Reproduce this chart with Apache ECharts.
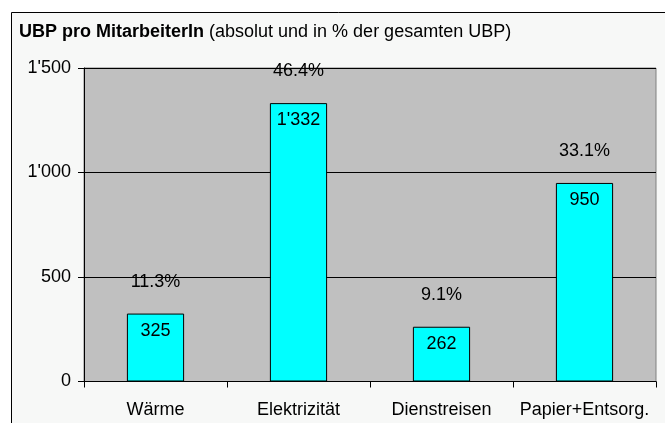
<!DOCTYPE html>
<html>
<head>
<meta charset="utf-8">
<script src="https://cdn.jsdelivr.net/npm/echarts@6/dist/echarts.min.js"></script>
<style>
  html, body { margin: 0; padding: 0; background: #fff; }
  #chart { width: 665px; height: 423px; }
</style>
</head>
<body>
<div id="chart"></div>
<script>
// values
var categories = ['Wärme', 'Elektrizität', 'Dienstreisen', 'Papier+Entsorg.'];
var ubpValues = [325, 1332, 262, 950];
var percentLabels = ['11.3%', '46.4%', '9.1%', '33.1%'];
var yTicks = [0, 500, 1000, 1500];

function swissNum(v) {
    return String(v).replace(/\B(?=(\d{3})+(?!\d))/g, "'");
}

var font = 'Liberation Sans, Arial, sans-serif';
var fs = 18;
var myChart = echarts.init(document.getElementById('chart'));
myChart.setOption({
    animation: false,
    backgroundColor: '#ffffff',
    graphic: [
        {
            type: 'rect',
            z: -10,
            shape: { x: 11.5, y: 12.5, width: 700, height: 500 },
            style: { fill: '#f7f8f7', stroke: '#000', lineWidth: 1 }
        }
    ],
    title: {
        text: '{b|UBP pro MitarbeiterIn} {n|(absolut und in % der gesamten UBP)}',
        left: 14,
        top: 18,
        textStyle: {
            fontWeight: 'normal',
            rich: {
                b: { fontFamily: font, fontSize: fs, fontWeight: 'bold', color: '#000' },
                n: { fontFamily: font, fontSize: fs, fontWeight: 'normal', color: '#000' }
            }
        }
    },
    grid: {
        left: 84,
        right: 9,
        top: 68,
        bottom: 41.5,
        show: true,
        backgroundColor: '#c0c0c0',
        borderColor: '#808080',
        borderWidth: 1
    },
    xAxis: {
        type: 'category',
        data: categories,
        axisLine: { lineStyle: { color: '#000', width: 1 } },
        axisTick: { show: true, length: 6, lineStyle: { color: '#000' } },
        axisLabel: {
            interval: 0,
            hideOverlap: false,
            fontFamily: font, fontSize: fs, color: '#000', margin: 20
        }
    },
    yAxis: {
        type: 'value',
        min: yTicks[0],
        max: yTicks[yTicks.length - 1],
        interval: 500,
        axisLine: { show: true, lineStyle: { color: '#000', width: 1 } },
        axisTick: { show: true, length: 6, lineStyle: { color: '#000' } },
        splitLine: { show: true, lineStyle: { color: '#000', width: 1 } },
        axisLabel: {
            fontFamily: font, fontSize: fs, color: '#000', margin: 13,
            formatter: function (v) { return swissNum(v); }
        }
    },
    series: [
        {
            type: 'bar',
            data: ubpValues,
            barWidth: '40%',
            itemStyle: { color: '#00ffff', borderColor: '#000', borderWidth: 1 },
            label: {
                show: true,
                position: 'insideTop',
                distance: 8,
                fontFamily: font, fontSize: fs, color: '#000',
                formatter: function (p) { return swissNum(p.value); }
            }
        },
        {
            type: 'bar',
            data: ubpValues,
            barWidth: '40%',
            barGap: '-100%',
            silent: true,
            itemStyle: { color: 'rgba(0,0,0,0)' },
            label: {
                show: true,
                position: 'top',
                distance: 23,
                fontFamily: font, fontSize: fs, color: '#000',
                formatter: function (p) { return percentLabels[p.dataIndex]; }
            }
        }
    ]
});
</script>
</body>
</html>
